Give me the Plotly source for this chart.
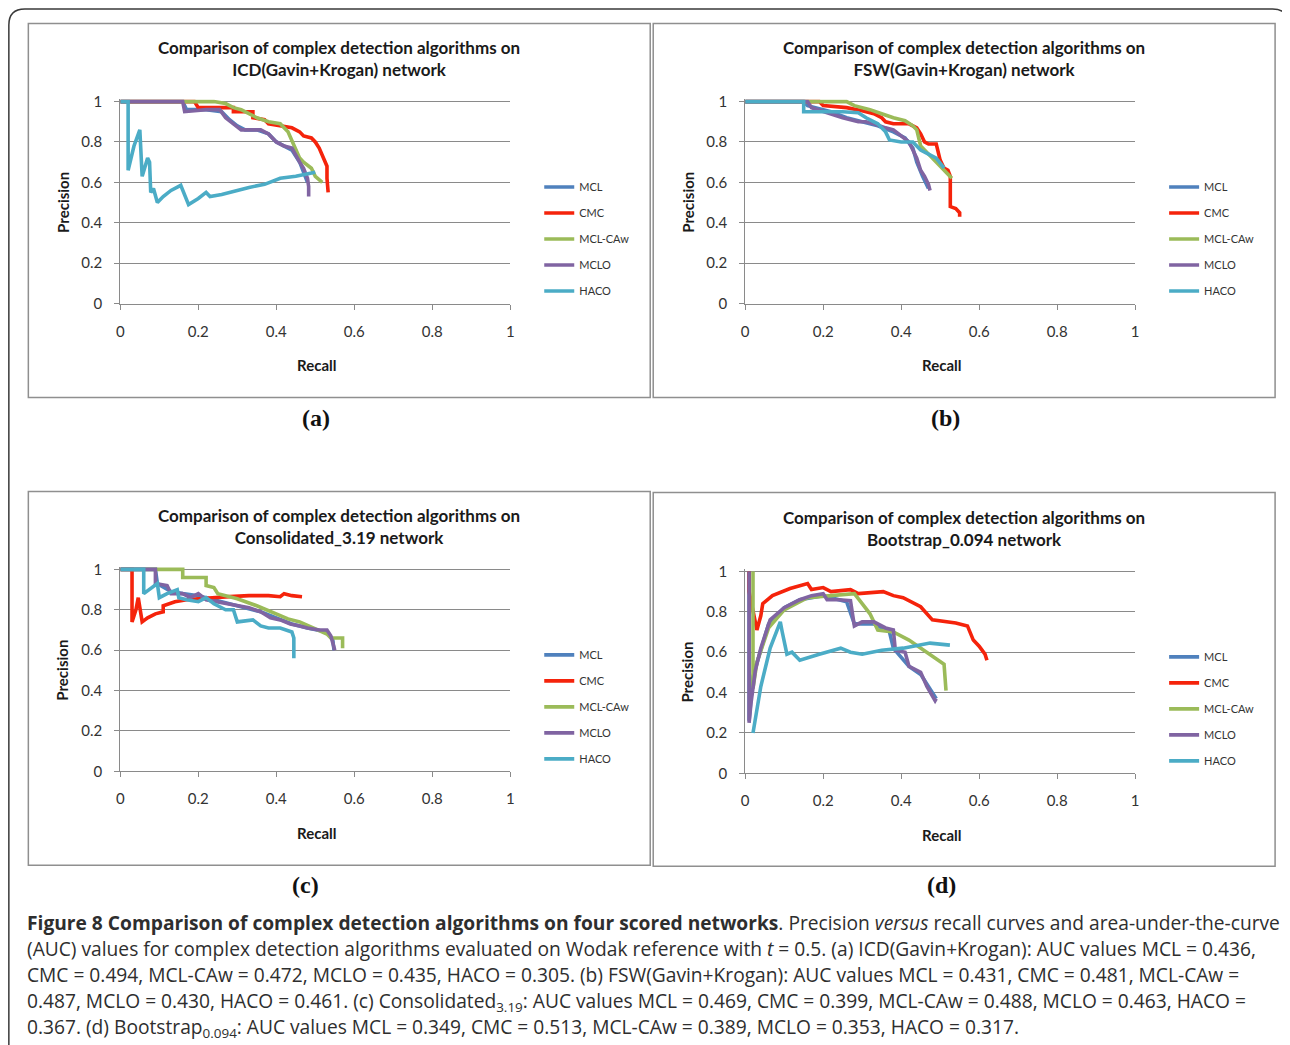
import plotly.graph_objects as go

# The page body keeps its default 8px margin. The photographed picture shows the
# window slightly inset (measured: shown = OFF + S * page), so reference pixels are
# mapped back through that before being placed on the figure.
PAGE_MARGIN = 8
W, H = 1290, 1045
SX, OX = 0.994, 3.7
SY, OY = 0.986, 6.5

SERIES = ["MCL", "CMC", "MCL-CAw", "MCLO", "HACO"]
COLORS = ["#4F81BD", "#F5230B", "#9BBB59", "#8064A2", "#4BACC6"]
TICKS = [0, 0.2, 0.4, 0.6, 0.8, 1]
TICK_TEXT = ["0", "0.2", "0.4", "0.6", "0.8", "1"]

# ---------------- (a) ICD(Gavin+Krogan) ----------------
A_MCL_R = [0, 0.16, 0.17, 0.22, 0.26, 0.28, 0.30, 0.32, 0.35, 0.38, 0.40, 0.42, 0.44, 0.46, 0.47, 0.48]
A_MCL_P = [1, 1, 0.96, 0.96, 0.95, 0.91, 0.88, 0.86, 0.86, 0.84, 0.80, 0.78, 0.76, 0.70, 0.65, 0.60]
A_CMC_R = [0, 0.19, 0.2, 0.29, 0.29, 0.34, 0.34, 0.37, 0.38, 0.41, 0.44, 0.46, 0.47, 0.49, 0.50, 0.51, 0.52, 0.53, 0.53, 0.533]
A_CMC_P = [1, 1, 0.97, 0.97, 0.95, 0.95, 0.92, 0.91, 0.89, 0.88, 0.87, 0.85, 0.83, 0.82, 0.80, 0.77, 0.73, 0.68, 0.62, 0.55]
A_CAW_R = [0, 0.24, 0.27, 0.29, 0.31, 0.33, 0.35, 0.38, 0.41, 0.43, 0.44, 0.45, 0.46, 0.47, 0.49, 0.50, 0.518]
A_CAW_P = [1, 1, 0.99, 0.97, 0.96, 0.94, 0.92, 0.90, 0.89, 0.85, 0.81, 0.77, 0.72, 0.70, 0.67, 0.63, 0.60]
A_MCLO_R = [0, 0.16, 0.165, 0.22, 0.255, 0.27, 0.29, 0.31, 0.33, 0.36, 0.38, 0.40, 0.42, 0.44, 0.46, 0.47, 0.48, 0.483, 0.483]
A_MCLO_P = [1, 1, 0.95, 0.96, 0.96, 0.92, 0.89, 0.86, 0.86, 0.86, 0.84, 0.80, 0.78, 0.77, 0.70, 0.67, 0.62, 0.58, 0.53]
A_HACO_R = [0, 0.02, 0.02, 0.035, 0.05, 0.056, 0.07, 0.075, 0.078, 0.085, 0.095, 0.11, 0.13, 0.15, 0.155, 0.175,
            0.2, 0.22, 0.23, 0.26, 0.3, 0.33, 0.37, 0.41, 0.45, 0.5]
A_HACO_P = [1, 1, 0.66, 0.78, 0.86, 0.63, 0.72, 0.70, 0.55, 0.57, 0.50, 0.53, 0.56, 0.58, 0.585, 0.49,
            0.52, 0.55, 0.53, 0.54, 0.56, 0.575, 0.59, 0.62, 0.63, 0.65]

# ---------------- (b) FSW(Gavin+Krogan) ----------------
B_MCL_R = [0, 0.15, 0.16, 0.22, 0.26, 0.30, 0.34, 0.38, 0.41, 0.43, 0.44, 0.455, 0.47]
B_MCL_P = [1, 1, 0.98, 0.95, 0.92, 0.90, 0.88, 0.85, 0.82, 0.77, 0.70, 0.63, 0.57]
B_CMC_R = [0, 0.19, 0.2, 0.26, 0.3, 0.33, 0.35, 0.36, 0.38, 0.42, 0.44, 0.45, 0.46, 0.47, 0.49, 0.5,
           0.51, 0.52, 0.526, 0.526, 0.54, 0.55, 0.55]
B_CMC_P = [1, 1, 0.98, 0.97, 0.955, 0.94, 0.92, 0.90, 0.89, 0.89, 0.87, 0.84, 0.80, 0.79, 0.79, 0.71,
           0.67, 0.66, 0.63, 0.48, 0.47, 0.45, 0.43]
B_CAW_R = [0, 0.26, 0.28, 0.32, 0.35, 0.38, 0.41, 0.43, 0.44, 0.45, 0.46, 0.48, 0.5, 0.52, 0.53]
B_CAW_P = [1, 1, 0.98, 0.96, 0.94, 0.92, 0.905, 0.88, 0.86, 0.78, 0.76, 0.72, 0.68, 0.64, 0.62]
B_MCLO_R = [0, 0.16, 0.17, 0.2, 0.22, 0.25, 0.27, 0.29, 0.31, 0.33, 0.36, 0.38, 0.40, 0.42, 0.43, 0.44,
            0.45, 0.46, 0.47, 0.474]
B_MCLO_P = [1, 1, 0.97, 0.95, 0.94, 0.92, 0.91, 0.90, 0.90, 0.89, 0.87, 0.86, 0.83, 0.80, 0.76, 0.72,
            0.66, 0.63, 0.59, 0.56]
B_HACO_R = [0, 0.15, 0.15, 0.2, 0.25, 0.29, 0.31, 0.34, 0.36, 0.37, 0.40, 0.43, 0.45, 0.47, 0.49, 0.51]
B_HACO_P = [1, 1, 0.95, 0.95, 0.95, 0.945, 0.92, 0.89, 0.85, 0.81, 0.80, 0.80, 0.76, 0.74, 0.72, 0.67]

# ---------------- (c) Consolidated_3.19 ----------------
C_MCL_R = [0, 0.09, 0.095, 0.13, 0.16, 0.2, 0.24, 0.28, 0.32, 0.36, 0.40, 0.44, 0.48, 0.51, 0.53, 0.545, 0.548]
C_MCL_P = [1, 1, 0.93, 0.89, 0.88, 0.87, 0.85, 0.83, 0.81, 0.79, 0.76, 0.73, 0.71, 0.70, 0.69, 0.65, 0.60]
C_CMC_R = [0, 0.03, 0.03, 0.04, 0.046, 0.05, 0.056, 0.07, 0.09, 0.11, 0.11, 0.14, 0.17, 0.2, 0.23, 0.28,
           0.33, 0.38, 0.41, 0.42, 0.44, 0.466]
C_CMC_P = [1, 1, 0.74, 0.80, 0.86, 0.80, 0.74, 0.76, 0.78, 0.79, 0.82, 0.84, 0.85, 0.855, 0.86, 0.865,
           0.87, 0.87, 0.865, 0.88, 0.87, 0.865]
C_CAW_R = [0, 0.16, 0.16, 0.22, 0.22, 0.24, 0.25, 0.27, 0.3, 0.35, 0.4, 0.43, 0.46, 0.495, 0.53, 0.54, 0.57, 0.57]
C_CAW_P = [1, 1, 0.96, 0.96, 0.92, 0.91, 0.88, 0.87, 0.855, 0.82, 0.78, 0.755, 0.74, 0.71, 0.68, 0.66, 0.66, 0.61]
C_MCLO_R = [0, 0.09, 0.09, 0.12, 0.13, 0.16, 0.18, 0.2, 0.22, 0.25, 0.27, 0.3, 0.33, 0.36, 0.385, 0.41,
            0.436, 0.46, 0.48, 0.51, 0.53, 0.54, 0.545, 0.55]
C_MCLO_P = [1, 1, 0.93, 0.92, 0.88, 0.88, 0.86, 0.88, 0.85, 0.84, 0.83, 0.82, 0.81, 0.79, 0.76, 0.75,
            0.73, 0.72, 0.71, 0.70, 0.70, 0.67, 0.64, 0.60]
C_HACO_R = [0, 0.06, 0.06, 0.08, 0.095, 0.1, 0.12, 0.146, 0.15, 0.17, 0.2, 0.22, 0.24, 0.27, 0.29, 0.3,
            0.34, 0.36, 0.38, 0.41, 0.44, 0.445, 0.445]
C_HACO_P = [1, 1, 0.88, 0.91, 0.93, 0.86, 0.88, 0.90, 0.86, 0.85, 0.84, 0.86, 0.83, 0.80, 0.80, 0.74,
            0.75, 0.72, 0.71, 0.71, 0.69, 0.66, 0.56]

# ---------------- (d) Bootstrap_0.094 ----------------
D_MCL_R = [0.01, 0.01, 0.02, 0.04, 0.06, 0.1, 0.14, 0.2, 0.26, 0.28, 0.33, 0.37, 0.38, 0.42, 0.45, 0.47, 0.49]
D_MCL_P = [1, 0.26, 0.48, 0.61, 0.74, 0.82, 0.86, 0.88, 0.85, 0.74, 0.74, 0.70, 0.62, 0.53, 0.49, 0.43, 0.37]
D_CMC_R = [0.01, 0.01, 0.03, 0.04, 0.045, 0.07, 0.115, 0.16, 0.17, 0.2, 0.22, 0.27, 0.29, 0.354, 0.38,
           0.405, 0.45, 0.48, 0.54, 0.57, 0.585, 0.6, 0.615, 0.62]
D_CMC_P = [1, 0.9, 0.71, 0.78, 0.84, 0.88, 0.915, 0.94, 0.91, 0.92, 0.90, 0.91, 0.89, 0.90, 0.88,
           0.87, 0.825, 0.76, 0.745, 0.73, 0.66, 0.63, 0.59, 0.56]
D_CAW_R = [0.02, 0.02, 0.03, 0.06, 0.1, 0.16, 0.22, 0.28, 0.3, 0.32, 0.34, 0.38, 0.42, 0.45, 0.474, 0.51, 0.515]
D_CAW_P = [1, 0.42, 0.55, 0.72, 0.81, 0.87, 0.88, 0.89, 0.84, 0.79, 0.71, 0.70, 0.66, 0.62, 0.59, 0.54, 0.41]
D_MCLO_R = [0.01, 0.01, 0.015, 0.026, 0.04, 0.064, 0.1, 0.14, 0.17, 0.2, 0.21, 0.24, 0.27, 0.28, 0.3,
            0.33, 0.36, 0.38, 0.385, 0.41, 0.42, 0.45, 0.466, 0.487, 0.49]
D_MCLO_P = [1, 0.25, 0.35, 0.51, 0.62, 0.76, 0.82, 0.86, 0.88, 0.89, 0.86, 0.86, 0.855, 0.73, 0.75,
            0.75, 0.72, 0.71, 0.61, 0.60, 0.53, 0.50, 0.43, 0.36, 0.37]
D_HACO_R = [0.02, 0.03, 0.04, 0.064, 0.09, 0.095, 0.107, 0.12, 0.14, 0.19, 0.245, 0.27, 0.3, 0.35,
            0.405, 0.474, 0.525]
D_HACO_P = [0.2, 0.32, 0.43, 0.62, 0.75, 0.70, 0.59, 0.60, 0.56, 0.59, 0.62, 0.60, 0.59, 0.61,
            0.62, 0.645, 0.635]

PANEL_TITLES = [
    "Comparison of complex detection algorithms on<br>ICD(Gavin+Krogan) network",
    "Comparison of complex detection algorithms on<br>FSW(Gavin+Krogan) network",
    "Comparison of complex detection algorithms on<br>Consolidated_3.19 network",
    "Comparison of complex detection algorithms on<br>Bootstrap_0.094 network",
]
PANEL_LABELS = ["(a)", "(b)", "(c)", "(d)"]
X_TITLE = "Recall"
Y_TITLE = "Precision"

CAPTION = [
    "<b>Figure 8 Comparison of complex detection algorithms on four scored networks</b>. Precision <i>versus</i> recall curves and area-under-the-curve",
    "(AUC) values for complex detection algorithms evaluated on Wodak reference with <i>t</i> = 0.5. (a) ICD(Gavin+Krogan): AUC values MCL = 0.436,",
    "CMC = 0.494, MCL-CAw = 0.472, MCLO = 0.435, HACO = 0.305. (b) FSW(Gavin+Krogan): AUC values MCL = 0.431, CMC = 0.481, MCL-CAw =",
    "0.487, MCLO = 0.430, HACO = 0.461. (c) Consolidated<sub>3.19</sub>: AUC values MCL = 0.469, CMC = 0.399, MCL-CAw = 0.488, MCLO = 0.463, HACO =",
    "0.367. (d) Bootstrap<sub>0.094</sub>: AUC values MCL = 0.349, CMC = 0.513, MCL-CAw = 0.389, MCLO = 0.353, HACO = 0.317.",
]

PANELS = [
    [(A_MCL_R, A_MCL_P), (A_CMC_R, A_CMC_P), (A_CAW_R, A_CAW_P), (A_MCLO_R, A_MCLO_P), (A_HACO_R, A_HACO_P)],
    [(B_MCL_R, B_MCL_P), (B_CMC_R, B_CMC_P), (B_CAW_R, B_CAW_P), (B_MCLO_R, B_MCLO_P), (B_HACO_R, B_HACO_P)],
    [(C_MCL_R, C_MCL_P), (C_CMC_R, C_CMC_P), (C_CAW_R, C_CAW_P), (C_MCLO_R, C_MCLO_P), (C_HACO_R, C_HACO_P)],
    [(D_MCL_R, D_MCL_P), (D_CMC_R, D_CMC_P), (D_CAW_R, D_CAW_P), (D_MCLO_R, D_MCLO_P), (D_HACO_R, D_HACO_P)],
]

# ---------------- layout geometry (reference pixels) ----------------
AREAS = [(120, 510, 101, 303), (745, 1135, 101, 303), (120, 510, 569, 771), (745, 1135, 571, 773)]
BOXES = [(28, 650, 23, 397), (653, 1275, 23, 397), (28, 650, 491, 865), (653, 1275, 492, 866)]
LABEL_POS = [(316, 418), (945, 418), (305, 885), (941, 885)]
YTITLE_X = [62, 687, 62, 687]
YMAX = 1.012

GRID = "#8A8A8A"
TXT = "#262626"
FONT = "Lato, 'Liberation Sans', sans-serif"
CAP_FONT = "'Open Sans', 'Liberation Sans', sans-serif"


def px(x):
    return ((x - OX) / SX - PAGE_MARGIN) / W


def py(y):
    return 1 - ((y - OY) / SY - PAGE_MARGIN) / H


fig = go.Figure()
layout = dict(
    width=W, height=H, margin=dict(l=0, r=0, t=0, b=0),
    paper_bgcolor="white", plot_bgcolor="white",
    font=dict(family=FONT, color=TXT),
)
annotations = []
shapes = []

for i, (series, area, box) in enumerate(zip(PANELS, AREAS, BOXES)):
    n = "" if i == 0 else str(i + 1)
    xl, xr, yt, yb = area
    ytop = yb - (yb - yt) * YMAX
    leg = "legend" + n
    for name, color, (r, p) in zip(SERIES, COLORS, series):
        fig.add_trace(go.Scatter(
            x=r, y=p, mode="lines", name=name,
            line=dict(color=color, width=3.6),
            xaxis="x" + n, yaxis="y" + n, legend=leg,
            legendgroup=f"{i}{name}",
        ))
    layout["xaxis" + n] = dict(
        domain=[px(xl), px(xr)], anchor="y" + n, range=[0, 1],
        tickvals=TICKS, ticktext=TICK_TEXT, showgrid=False, zeroline=False,
        showline=True, linecolor=GRID, linewidth=1,
        ticks="outside", ticklen=5, tickcolor=GRID, tickwidth=1,
        ticklabelstandoff=9, tickfont=dict(size=15, color="#333333", family=FONT),
    )
    layout["yaxis" + n] = dict(
        domain=[py(yb), py(ytop)], anchor="x" + n, range=[0, YMAX],
        tickvals=TICKS, ticktext=TICK_TEXT, showgrid=True, gridcolor=GRID, gridwidth=1,
        zeroline=False, showline=True, linecolor=GRID, linewidth=1,
        ticks="outside", ticklen=5, tickcolor=GRID, tickwidth=1,
        ticklabelstandoff=9, tickfont=dict(size=15, color="#333333", family=FONT),
    )
    layout[leg] = dict(
        x=px(xr + 29), y=py(yt + 71), xanchor="left", yanchor="top",
        bgcolor="rgba(0,0,0,0)", borderwidth=0,
        font=dict(size=11, color="#333333", family=FONT),
        tracegroupgap=7, itemwidth=30,
    )
    bx0, bx1, by0, by1 = box
    shapes.append(dict(type="rect", xref="paper", yref="paper",
                       x0=px(bx0), x1=px(bx1), y0=py(by1), y1=py(by0),
                       line=dict(color="#8F8F8F", width=1.5)))
    cx = (bx0 + bx1) / 2
    annotations.append(dict(
        x=px(cx), y=py(yt - 43), xref="paper", yref="paper", text="<b>" + PANEL_TITLES[i] + "</b>",
        showarrow=False, xanchor="center", yanchor="middle",
        font=dict(size=17, color="#1A1A1A", family=FONT),
    ))
    annotations.append(dict(
        x=px(YTITLE_X[i]), y=py((yt + yb) / 2), xref="paper", yref="paper", text="<b>" + Y_TITLE + "</b>",
        showarrow=False, textangle=-90, xanchor="center", yanchor="middle",
        font=dict(size=15, color="#1A1A1A", family=FONT),
    ))
    annotations.append(dict(
        x=px((xl + xr) / 2 + 1), y=py(yb + 62), xref="paper", yref="paper", text="<b>" + X_TITLE + "</b>",
        showarrow=False, xanchor="center", yanchor="middle",
        font=dict(size=15, color="#1A1A1A", family=FONT),
    ))
    lx, ly = LABEL_POS[i]
    annotations.append(dict(
        x=px(lx), y=py(ly), xref="paper", yref="paper", text="<b>" + PANEL_LABELS[i] + "</b>",
        showarrow=False, xanchor="center", yanchor="middle",
        font=dict(size=24, color="#111111", family="'Liberation Serif', 'DejaVu Serif', serif"),
    ))

# caption
CAP_Y = [922, 948, 974, 1001, 1027]
for line, yy in zip(CAPTION, CAP_Y):
    annotations.append(dict(
        x=px(25), y=py(yy), xref="paper", yref="paper", text=line,
        showarrow=False, xanchor="left", yanchor="middle",
        font=dict(size=19.2, color="#2E2E2E", family=CAP_FONT),
    ))

# outer rounded frame
r = 16
x0, y0, x1, y1 = 8.5, 8.5, 1288.5, 1075
path = (f"M {px(x0)},{py(y1)} L {px(x0)},{py(y0 + r)} Q {px(x0)},{py(y0)} {px(x0 + r)},{py(y0)} "
        f"L {px(x1 - r)},{py(y0)} Q {px(x1)},{py(y0)} {px(x1)},{py(y0 + r)} L {px(x1)},{py(y1)}")
shapes.append(dict(type="path", xref="paper", yref="paper", path=path,
                   line=dict(color="#3A3A3A", width=1.5)))

layout["annotations"] = annotations
layout["shapes"] = shapes
fig.update_layout(**layout)
fig.write_html("out.html", config={"displayModeBar": False})
